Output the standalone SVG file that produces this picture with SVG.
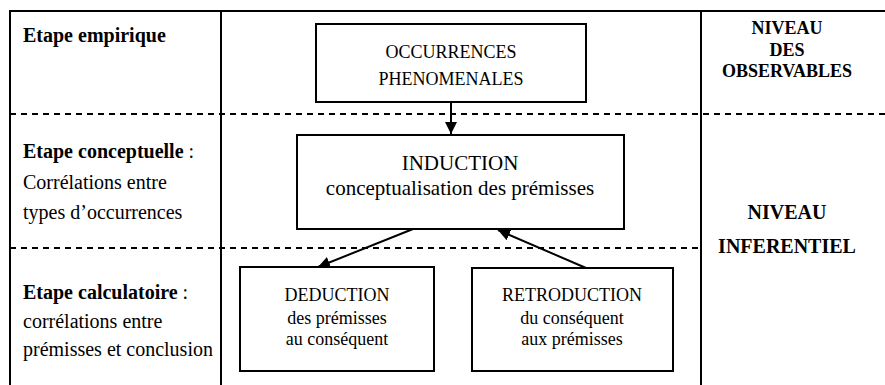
<svg xmlns="http://www.w3.org/2000/svg" width="885" height="385" viewBox="0 0 885 385">
<style>
.frame{stroke:#000;stroke-width:2;fill:none}
.dash{stroke:#000;stroke-width:2;stroke-dasharray:6 5;fill:none}
.box{stroke:#000;stroke-width:2;fill:#fff}
.conn{stroke:#000;stroke-width:2;fill:none}
text{fill:#000}
.b{font-weight:bold}
.l{font-size:20px}
.n{font-size:18px}
.m{font-size:21px}
.c{text-anchor:middle}
</style>
<defs>
<marker id="ah" viewBox="0 0 10 10" refX="10" refY="5" markerWidth="6" markerHeight="6" orient="auto" markerUnits="strokeWidth">
<path d="M0,0 L10,5 L0,10 z" fill="#000"/>
</marker>
</defs>
<rect width="885" height="385" fill="#fff"/>
<g id="grid">
<line class="frame" x1="10" y1="11" x2="885" y2="11"/>
<line class="frame" x1="10" y1="10" x2="10" y2="385"/>
<line class="frame" x1="221" y1="10" x2="221" y2="385"/>
<line class="frame" x1="701" y1="10" x2="701" y2="385"/>
<line class="dash" x1="10" y1="114" x2="885" y2="114"/>
<line class="dash" x1="10" y1="248" x2="700" y2="248"/>
</g>
<g font-family="'Liberation Serif', 'DejaVu Serif', serif">
<g id="labels-left">
<text class="l b" x="23" y="42">Etape empirique</text>
<text class="l" x="23" y="158"><tspan class="b">Etape conceptuelle</tspan> :</text>
<text class="l" x="23" y="189">Corrélations entre</text>
<text class="l" x="23" y="219">types d’occurrences</text>
<text class="l" x="23" y="299"><tspan class="b">Etape calculatoire</tspan> :</text>
<text class="l" x="23" y="328">corrélations entre</text>
<text class="l" x="23" y="356">prémisses et conclusion</text>
</g>
<g id="labels-right">
<text class="n b c" x="787" y="34">NIVEAU</text>
<text class="n b c" x="787" y="56">DES</text>
<text class="n b c" x="787" y="77">OBSERVABLES</text>
<text class="l b c" x="787" y="219">NIVEAU</text>
<text class="l b c" x="787" y="253">INFERENTIEL</text>
</g>
<g id="occurrences">
<rect class="box" x="316" y="24" width="270" height="78"/>
<text class="n c" x="451" y="58">OCCURRENCES</text>
<text class="n c" x="451" y="85">PHENOMENALES</text>
</g>
<g id="induction">
<rect class="box" x="297" y="135" width="327" height="94"/>
<text class="m c" x="460" y="170">INDUCTION</text>
<text class="m c" x="460" y="195">conceptualisation des prémisses</text>
</g>
<g id="deduction">
<rect class="box" x="240" y="267" width="194" height="104"/>
<text class="n c" x="337" y="301">DEDUCTION</text>
<text class="n c" x="337" y="324">des prémisses</text>
<text class="n c" x="337" y="345">au conséquent</text>
</g>
<g id="retroduction">
<rect class="box" x="472" y="268" width="201" height="103"/>
<text class="n c" x="572" y="301">RETRODUCTION</text>
<text class="n c" x="572" y="324">du conséquent</text>
<text class="n c" x="572" y="345">aux prémisses</text>
</g>
</g>
<g id="connectors">
<line class="conn" x1="451" y1="102" x2="451" y2="134" marker-end="url(#ah)"/>
<line class="conn" x1="413" y1="229" x2="318" y2="267" marker-end="url(#ah)"/>
<line class="conn" x1="586" y1="268" x2="498" y2="230" marker-end="url(#ah)"/>
</g>
</svg>
